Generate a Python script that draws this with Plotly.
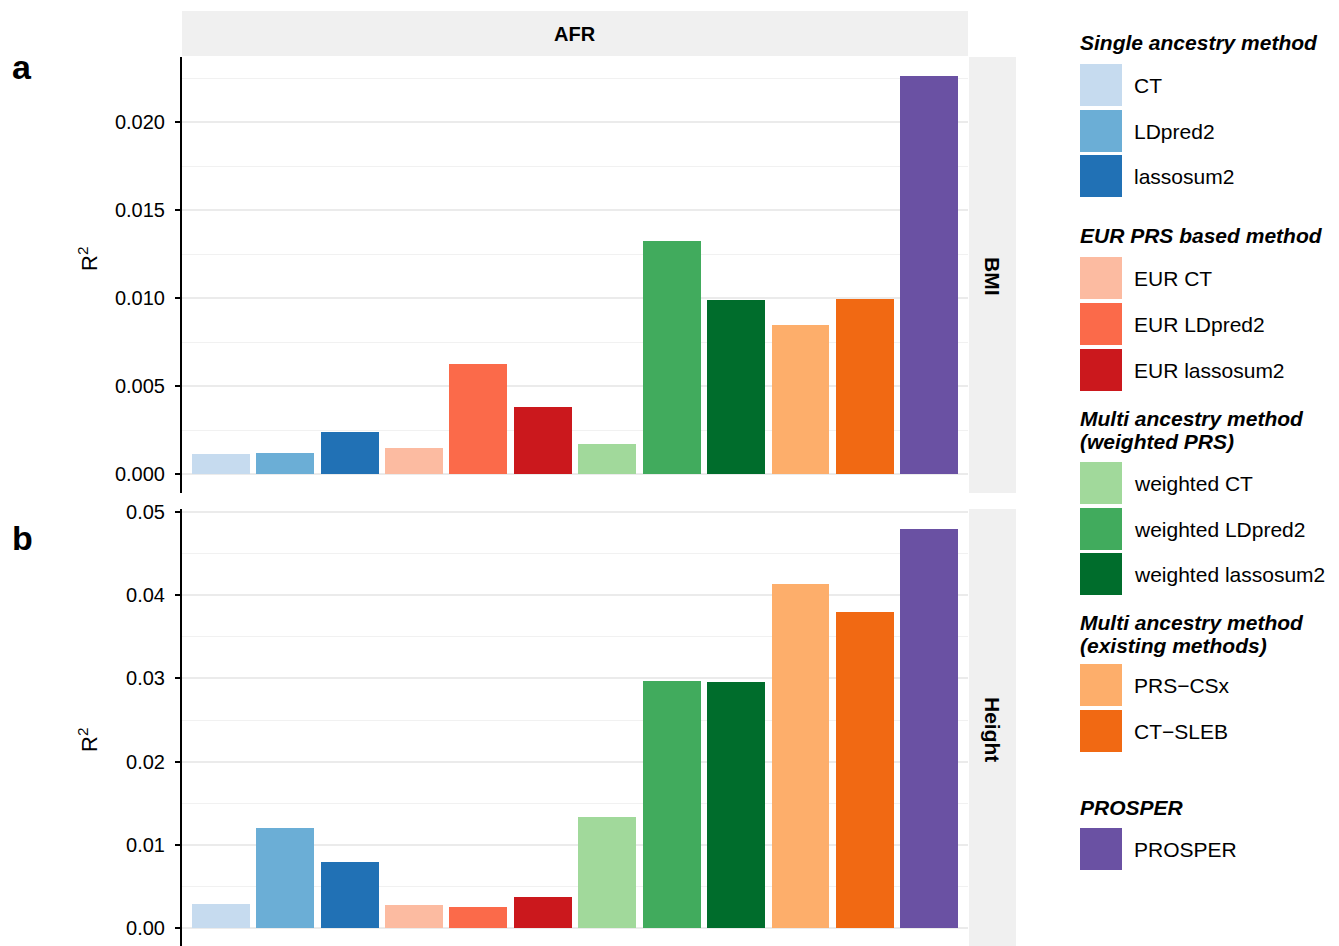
import plotly.graph_objects as go

W, H = 1339, 946

# Methods, in plotting order, with their colours
methods = ["CT", "LDpred2", "lassosum2",
           "EUR CT", "EUR LDpred2", "EUR lassosum2",
           "weighted CT", "weighted LDpred2", "weighted lassosum2",
           "PRS\u2212CSx", "CT\u2212SLEB", "PROSPER"]
colors = ["#c6dbef", "#6baed6", "#2171b5",
          "#fcbba1", "#fb6a4a", "#cb181d",
          "#a1d99b", "#41ab5d", "#006d2c",
          "#fdae6b", "#f16913", "#6a51a3"]

# R2 in AFR
r2_bmi = [0.00114, 0.0012, 0.0024, 0.00148, 0.00626, 0.0038,
          0.0017, 0.01325, 0.0099, 0.00847, 0.00995, 0.02263]
r2_height = [0.00285, 0.0120, 0.0079, 0.00273, 0.00249, 0.0037,
             0.01332, 0.02969, 0.02957, 0.04136, 0.03799, 0.04798]

# Legend groups: (title lines, member indices)
legend_groups = [
    (["Single ancestry method"], [0, 1, 2]),
    (["EUR PRS based method"], [3, 4, 5]),
    (["Multi ancestry method", "(weighted PRS)"], [6, 7, 8]),
    (["Multi ancestry method", "(existing methods)"], [9, 10]),
    (["PROSPER"], [11]),
]

FONT = "Liberation Sans, Arial, Helvetica, sans-serif"
STRIP = "#f0f0f0"
GRID = "#ebebeb"


def px(x):
    return x / W


def py(y):
    return 1 - y / H


fig = go.Figure()

fig.add_trace(go.Bar(x=methods, y=r2_bmi, marker=dict(color=colors, line=dict(width=0)),
                     width=0.9, xaxis="x", yaxis="y", showlegend=False))
fig.add_trace(go.Bar(x=methods, y=r2_height, marker=dict(color=colors, line=dict(width=0)),
                     width=0.9, xaxis="x2", yaxis="y2", showlegend=False))

panel_x = [px(182), px(968)]
xa = dict(domain=panel_x, range=[-0.6, 11.6], showticklabels=False, showgrid=False,
          zeroline=False, showline=False, ticks="", fixedrange=True, automargin=False)
ya_common = dict(showline=True, linecolor="black", linewidth=2, ticks="outside",
                 ticklen=5, tickwidth=2, tickcolor="black", showgrid=True,
                 gridcolor=GRID, gridwidth=2, zeroline=False, automargin=False,
                 tickfont=dict(family=FONT, size=20, color="black"),
                 ticklabelstandoff=6,
                 minor=dict(showgrid=True, gridcolor="#f1f1f1", gridwidth=1))

fig.update_layout(
    width=W, height=H,
    margin=dict(l=0, r=0, t=0, b=0, pad=0, autoexpand=False),
    paper_bgcolor="white", plot_bgcolor="white",
    font=dict(family=FONT, color="black"),
    bargap=0,
    xaxis=dict(xa, anchor="y"),
    xaxis2=dict(xa, anchor="y2"),
    yaxis=dict(ya_common, domain=[py(493), py(57)], range=[-0.00108, 0.023713],
               anchor="x", tickvals=[0, 0.005, 0.010, 0.015, 0.020], tickformat=".3f",
               minor=dict(ya_common["minor"], dtick=0.0025, tick0=0)),
    yaxis2=dict(ya_common, domain=[0, py(509)], range=[-0.0022, 0.0504],
                anchor="x2", tickvals=[0, 0.01, 0.02, 0.03, 0.04, 0.05], tickformat=".2f",
                minor=dict(ya_common["minor"], dtick=0.005, tick0=0)),
)

shapes = []
annotations = []

# facet strips
shapes.append(dict(type="rect", xref="paper", yref="paper", x0=px(182), x1=px(968),
                   y0=py(56), y1=py(11), fillcolor=STRIP, line=dict(width=0), layer="below"))
shapes.append(dict(type="rect", xref="paper", yref="paper", x0=px(969), x1=px(1016),
                   y0=py(493), y1=py(57), fillcolor=STRIP, line=dict(width=0), layer="below"))
shapes.append(dict(type="rect", xref="paper", yref="paper", x0=px(969), x1=px(1016),
                   y0=py(946), y1=py(509), fillcolor=STRIP, line=dict(width=0), layer="below"))

annotations.append(dict(text="AFR", x=px(575), y=py(34), xref="paper", yref="paper",
                        showarrow=False, xanchor="center", yanchor="middle",
                        font=dict(family=FONT, size=20, color="black", weight="bold")))
side_font = dict(family=FONT, size=21, color="black", weight="bold")
annotations.append(dict(text="BMI", x=px(993), y=py(276), xref="paper", yref="paper",
                        showarrow=False, font=side_font, textangle=90,
                        xanchor="center", yanchor="middle"))
annotations.append(dict(text="Height", x=px(993), y=py(729), xref="paper", yref="paper",
                        showarrow=False, font=side_font, textangle=90,
                        xanchor="center", yanchor="middle"))

# panel tags and axis titles
for tag, ty in [("a", 67), ("b", 538)]:
    annotations.append(dict(text=tag, x=px(22), y=py(ty), xref="paper", yref="paper",
                            showarrow=False, xanchor="center", yanchor="middle",
                            font=dict(family=FONT, size=34, color="black", weight="bold")))
for ty in [259, 740]:
    annotations.append(dict(text="R<sup>2</sup>", x=px(88), y=py(ty), xref="paper", yref="paper",
                            showarrow=False, textangle=-90, xanchor="center", yanchor="middle",
                            font=dict(family=FONT, size=22, color="black")))

# legend drawn as keys + labels
title_font = dict(family=FONT, size=21, color="black", weight="bold", style="italic")
label_font = dict(family=FONT, size=21, color="black")
title_lines_y = [[42], [236], [418, 442], [622, 645], [807]]
key_tops = [[64, 110, 155], [257, 303, 349], [462, 508, 553], [664, 710], [828]]
for (titles, members), tys, tops in zip(legend_groups, title_lines_y, key_tops):
    for t, ty in zip(titles, tys):
        annotations.append(dict(text=t, x=px(1078), y=py(ty), xref="paper", yref="paper",
                                showarrow=False, xanchor="left", yanchor="middle",
                                font=title_font))
    for idx, top in zip(members, tops):
        shapes.append(dict(type="rect", xref="paper", yref="paper",
                           x0=px(1080), x1=px(1122), y0=py(top + 42), y1=py(top),
                           fillcolor=colors[idx], line=dict(width=0)))
        annotations.append(dict(text=methods[idx], x=px(1132), y=py(top + 21),
                                xref="paper", yref="paper", showarrow=False,
                                xanchor="left", yanchor="middle", font=label_font))

fig.update_layout(shapes=shapes, annotations=annotations)

fig.write_html("out.html")
